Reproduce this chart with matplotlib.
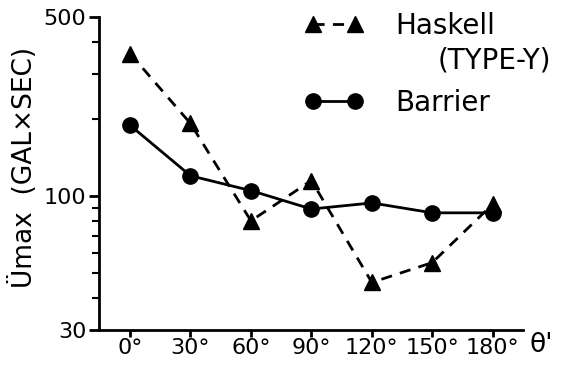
import matplotlib
matplotlib.use("Agg")
import matplotlib.pyplot as plt
from matplotlib.ticker import FixedLocator, FixedFormatter, NullFormatter

angles = [0, 30, 60, 90, 120, 150, 180]
tick_labels = ["0°", "30°", "60°", "90°", "120°", "150°", "180°"]
haskell = [360, 192, 80, 115, 46, 55, 93]
barrier = [189, 120, 105, 89, 94, 86, 86]
y_major = [30, 100, 500]
y_minor = [40, 50, 60, 70, 80, 90, 200, 300, 400]

plt.rcParams['font.family'] = ['DejaVu Sans']
fig = plt.figure(figsize=(5.63, 3.69), dpi=100)
ax = fig.add_axes([99/563, 1-330/369, (523-99)/563, (330-17)/369])

ax.plot(angles, haskell, color='black', lw=2, ls=(0, (4, 3)), marker='^', ms=12, label='Haskell')
ax.plot(angles, barrier, color='black', lw=2, ls='-', marker='o', ms=11, label='Barrier')

ax.set_yscale('log')
ax.set_ylim(30, 500)
ax.set_xlim(-15.4, 195)
ax.yaxis.set_major_locator(FixedLocator(y_major))
ax.yaxis.set_major_formatter(FixedFormatter([str(v) for v in y_major]))
ax.yaxis.set_minor_locator(FixedLocator(y_minor))
ax.yaxis.set_minor_formatter(NullFormatter())
ax.set_xticks(angles)
ax.set_xticklabels(tick_labels)

for s in ['top', 'right']:
    ax.spines[s].set_visible(False)
for s in ['left', 'bottom']:
    ax.spines[s].set_linewidth(2)
ax.tick_params(axis='both', which='major', labelsize=16, width=2, length=7, direction='out')
ax.tick_params(axis='y', which='minor', width=1.5, length=5)
ax.tick_params(axis='x', which='major', length=5, pad=1)
ax.tick_params(axis='y', which='major', pad=2)

ax.set_ylabel("Ümax  (GAL×SEC)", fontsize=19)
ax.yaxis.set_label_coords(-0.143, 0.52)
fig.text(541/563, 1-345/369, "θ'", fontsize=19, ha='center', va='center')

leg = ax.legend(loc='upper left', bbox_to_anchor=(305/563, 1-12/369), bbox_transform=fig.transFigure,
                frameon=False, fontsize=20, handlelength=2.1, handletextpad=1.15,
                labelspacing=1.75, borderpad=0, borderaxespad=0, numpoints=2)
fig.text(551/563, 1-60/369, "(TYPE-Y)", fontsize=20, ha='right', va='center')

fig.savefig("out.png", dpi=100)
